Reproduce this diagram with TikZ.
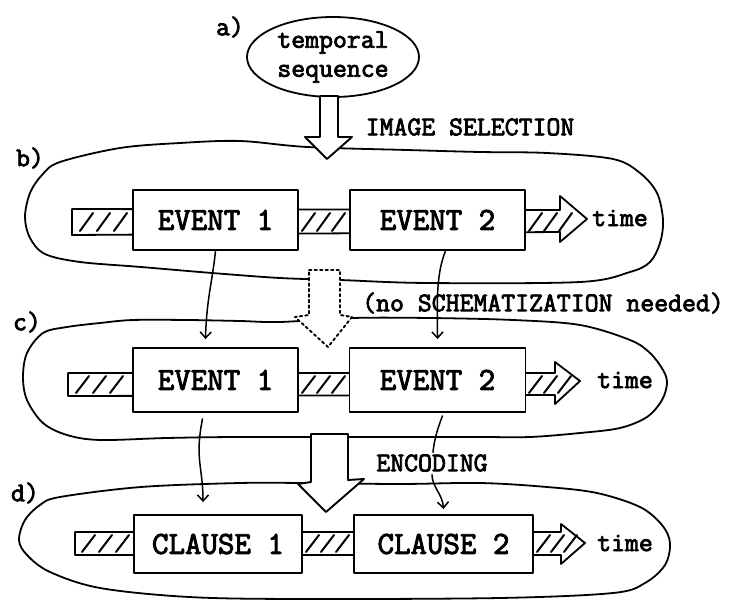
\documentclass[tikz,border=0pt]{standalone}
\usepackage{fontspec}
\newfontfamily\twfont{Latin Modern Mono}[FakeBold=3]
\usetikzlibrary{arrows.meta,shapes.geometric}
\begin{document}
\begin{tikzpicture}[x=1pt,y=-1pt,line join=round,line cap=round,
  lab/.style={font=\twfont\fontsize{27}{29}\selectfont,inner sep=0pt},
  evbox/.style={draw,fill=white,line width=1.9pt,inner sep=0pt,
    font=\twfont\fontsize{32}{34}\selectfont},
  blob/.style={line width=1.8pt},
  conn/.style={line width=1.5pt,-{Straight Barb[length=6pt,width=11pt,line width=1.5pt]}},
  bigarrow/.style={draw,fill=white,line width=1.9pt},
  bar/.style={draw,fill=white,line width=1.8pt},
  hatch/.style={line width=2pt}]
\useasboundingbox (0,0) rectangle (731,601);

% ---- blobs ----
\draw[blob] plot[smooth cycle,tension=0.55] coordinates {
 (60,162) (120,148) (180,143) (240,141) (307,147) (407,150) (480,152)
 (547,153) (613,159) (640,173) (657,193) (663,220) (660,243) (650,262)
 (630,272) (580,282) (427,283) (340,280) (280,278) (212,273) (141,267)
 (80,262) (45,254) (30,238) (25,217) (30,193) (42,175)};
\draw[blob] plot[smooth cycle,tension=0.55] coordinates {
 (43,333) (67,327) (100,323) (133,320) (187,320) (240,321) (280,322)
 (352,318) (430,318) (513,320) (580,325) (630,340) (650,353) (663,370)
 (667,383) (662,400) (647,417) (620,428) (580,433) (530,437) (480,437)
 (400,437) (240,437) (167,438) (100,440) (67,435) (43,423) (27,400)
 (23,377) (27,353)};
\draw[blob] plot[smooth cycle,tension=0.55] coordinates {
 (60,497) (141,487) (240,483) (302,483) (400,484) (480,483) (547,487)
 (597,493) (640,507) (662,525) (670,543) (665,565) (645,583) (613,593)
 (500,598) (300,599) (189,597) (100,588) (50,572) (27,555) (19,540)
 (25,520) (40,505)};

% ---- a) ----
\node[draw,ellipse,line width=1.8pt,minimum width=172pt,minimum height=80pt,
  align=center,lab] (seq) at (333,57) {temporal\\sequence};
\node[lab] (la) at (230,27) {a)};
\draw[bigarrow] (320,96) -- (338,96) -- (338,137) -- (352,137) -- (327,159)
  -- (305,137) -- (320,137) -- cycle;
\node[lab] (isel) at (470,127) {IMAGE SELECTION};

% ---- dotted arrow ----
\draw[bigarrow,dash pattern=on 2.5pt off 3pt] (309,270) -- (340,270) -- (340,315)
  -- (352,317) -- (328,347) -- (295,317) -- (309,315) -- cycle;
\node[lab] (nosch) at (543,303) {(no SCHEMATIZATION needed)};

% ---- encoding arrow ----
\draw[bigarrow] (311,434) -- (348,434) -- (348,480) -- (364,479) -- (326,512)
  -- (298,484) -- (311,482) -- cycle;

% ---- bars ----
\draw[bar] (72,209) -- (560,210) -- (560,196) -- (587,219) -- (560,242)
  -- (560,232) -- (72,235) -- cycle;
\foreach \x in {80,97,114,302,317,332,529,544,559}
  \draw[hatch] (\x,231) -- ++(13,-18);
\draw[bar] (68,373) -- (555,373) -- (555,362) -- (580,381) -- (555,404)
  -- (555,395) -- (68,396) -- cycle;
\foreach \x in {76,93,110,302,317,332,529,544,558}
  \draw[hatch] (\x,393) -- ++(13,-17);
\draw[bar] (75,532) -- (561,532) -- (561,524) -- (585,543) -- (561,564)
  -- (561,555) -- (75,555) -- cycle;
\foreach \x in {82,99,116,306,321,336,537,551,564}
  \draw[hatch] (\x,552) -- ++(13,-17);

% ---- boxes ----
\node[evbox,minimum width=165pt,minimum height=60pt] (b1) at (215.5,220) {EVENT 1};
\node[evbox,minimum width=175pt,minimum height=60pt] (b2) at (437.5,220) {EVENT 2};
\node[evbox,minimum width=165pt,minimum height=64pt] (c1) at (215.5,380) {EVENT 1};
\node[evbox,minimum width=176pt,minimum height=64pt] (c2) at (437.5,380) {EVENT 2};
\node[evbox,minimum width=168pt,minimum height=58pt] (d1) at (218,544) {CLAUSE 1};
\node[evbox,minimum width=179pt,minimum height=58pt] (d2) at (443.5,544) {CLAUSE 2};

\node[lab] (lb) at (30,158) {b)};
\node[lab] (lc) at (27,322) {c)};
\node[lab] (ld) at (25,493) {d)};
\node[lab] (tb) at (620,218) {time};
\node[lab] (tc) at (625,380) {time};
\node[lab] (td) at (625,543) {time};
\node[lab] (enc) at (432,463) {ENCODING};

% ---- connectors ----
\draw[conn] (b1.south) .. controls +(-3,30) and +(1,-40) .. ([xshift=-10pt,yshift=8pt]c1.north);
\draw[conn] ([xshift=8pt]b2.south) .. controls +(-10,25) and +(0,-35) .. ([yshift=8pt]c2.north);
\draw[conn] ([xshift=-13pt,yshift=-6pt]c1.south) .. controls +(-8,40) and +(0,-35) .. ([xshift=-15pt,yshift=12pt]d1.north);
\draw[line width=1.5pt] ([xshift=5pt,yshift=-3pt]c2.south) .. controls +(-6,15) and +(1,-10) .. ([xshift=1pt,yshift=2pt]enc.north);
\draw[conn] ([yshift=-3pt]enc.south) .. controls +(0,12) and +(-1,-15) .. ([yshift=5pt]d2.north);
\end{tikzpicture}
\end{document}
